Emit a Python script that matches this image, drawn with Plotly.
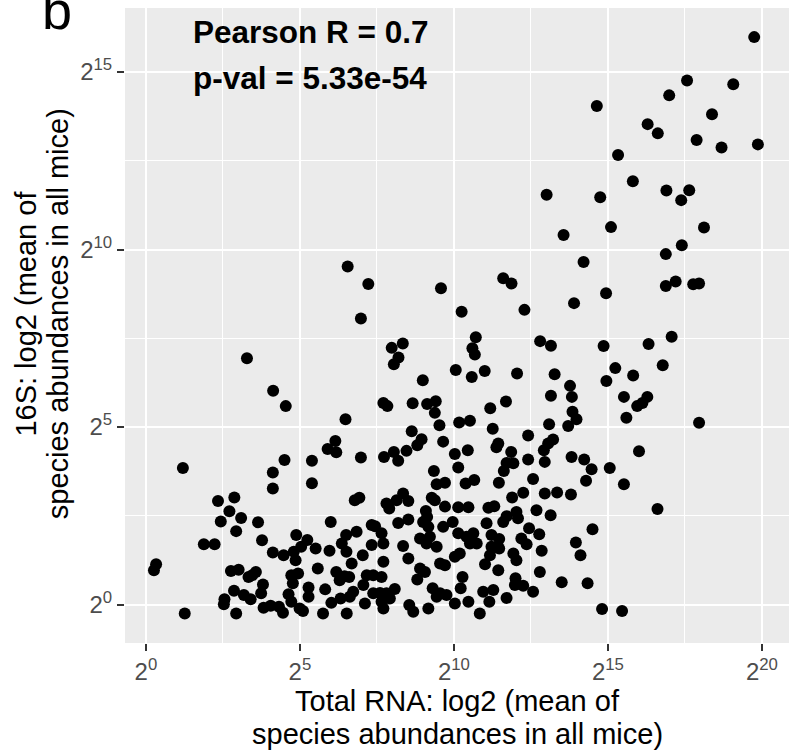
import plotly.graph_objects as go

# log2(mean abundance) values
total_rna_log2 = [
    19.75, 17.57, 19.07, 16.99, 14.64, 18.38, 16.29, 16.62, 17.88, 18.69, 19.87, 15.33, 15.81, 13.01, 14.75,
    16.9, 17.64, 17.38, 15.1, 18.12, 13.56, 17.40, 16.88, 14.21, 14.94, 16.88, 17.2, 17.77, 17.96, 13.9,
    17.07, 14.86, 16.32, 16.78, 15.24, 15.82, 14.95, 13.27, 13.77, 13.83, 15.52, 16.28, 15.95, 16.12, 13.85,
    13.98, 15.6, 17.96, 13.71,
    6.55, 7.22, 6.98, 9.58, 11.6, 11.87, 10.25, 12.29, 10.71, 10.6, 10.68, 7.98, 8.34, 8.2, 8.05,
    12.8, 13.15, 10.06, 11.0, 10.58, 12.05, 8.99, 6.48, 7.71, 7.84, 8.66, 9.13, 9.41, 9.38, 9.53,
    10.17, 10.52, 11.18, 11.69, 13.15, 13.09, 8.63, 11.26,
    3.28, 4.13, 4.54,
    1.2, 0.33, 0.26, 1.26, 4.12, 4.5, 4.12, 5.39, 5.39, 5.9, 6.15, 6.18, 2.34, 2.87, 2.71,
    2.43, 3.09, 2.93, 3.64, 3.77, 1.88, 2.23, 4.12, 4.47, 4.8, 4.88, 5.24, 5.04, 5.51, 4.86,
    6.0, 5.96, 6.36, 6.5, 2.76, 3.01, 3.33, 3.57, 3.45, 3.8, 2.86, 2.55, 2.53, 3.18, 3.4,
    3.74, 2.93, 3.82, 4.05, 4.32, 4.45, 4.72, 4.77, 4.63, 4.94, 4.72, 4.99, 5.1, 5.28, 5.28,
    5.58, 5.82, 5.75, 6.18, 6.29, 6.02, 6.32, 6.52,
    13.82, 14.23, 14.47, 15.06, 16.01, 14.29, 15.52, 13.8, 16.61, 14.5, 13.96, 14.11, 14.34, 14.81, 15.46,
    13.5,
    9.65, 8.95, 8.81, 8.46, 8.05, 8.19, 7.73, 6.98, 10.03, 10.45, 10.14, 9.35, 9.44, 9.71, 11.44,
    11.38, 11.86, 11.71, 11.93, 11.62, 12.41, 12.41, 12.92, 13.06, 13.22, 12.95, 12.57, 11.46, 10.38, 10.66,
    12.95, 13.35, 12.25, 11.89, 12.68, 13.14, 11.12, 11.31, 12.03, 11.71, 12.08, 11.6, 11.06, 12.44, 12.19,
    12.36, 12.77, 12.85, 11.22, 11.47, 11.22, 11.47, 11.17, 11.01, 11.93, 12.03, 11.44, 12.79, 12.0, 11.98,
    12.25, 12.57, 11.71, 11.28, 10.95, 11.15, 10.84, 10.28, 10.22, 10.47, 10.03, 9.17, 8.55, 8.68, 7.71,
    9.31, 9.55, 9.76, 9.44, 8.9, 9.06, 8.81, 9.55, 9.71, 8.35, 8.52, 7.71, 8.08, 7.81, 7.6,
    7.38, 7.92, 7.65, 7.11, 6.73, 6.62, 7.06, 7.17, 7.38, 7.65, 6.6, 6.45, 6.68, 7.04, 7.33,
    7.71, 6.51, 6.84, 7.33, 7.44, 7.65, 8.19, 8.52, 8.9, 9.11, 9.22, 9.44, 9.0, 9.13, 9.09,
    9.28, 9.38, 9.71, 9.17, 9.65, 9.96, 10.14, 10.47, 10.14, 10.41, 10.52, 10.74, 10.63, 10.03, 10.19,
    8.35, 8.52, 8.14, 7.81, 7.9, 6.78, 6.93,
]
s16_log2 = [
    15.98, 14.76, 14.65, 14.34, 14.04, 13.81, 13.53, 13.27, 13.08, 12.87, 12.96, 12.66, 11.92, 11.54, 11.47,
    11.66, 11.67, 11.39, 10.63, 10.62, 10.41, 10.12, 9.87, 9.65, 8.77, 8.97, 9.10, 9.02, 9.04, 8.49,
    7.54, 7.28, 7.34, 6.74, 6.66, 6.45, 6.30, 6.49, 6.16, 5.85, 5.85, 5.85, 5.59, 5.68, 5.43,
    5.22, 5.26, 5.12, 5.03,
    9.52, 9.03, 8.06, 8.91, 9.19, 9.04, 8.25, 8.30, 7.53, 7.22, 7.04, 7.23, 7.35, 6.96, 6.77,
    7.42, 7.29, 6.61, 6.58, 6.41, 6.51, 6.32, 5.22, 5.68, 5.59, 5.67, 5.65, 5.73, 5.40, 5.05,
    5.13, 5.18, 5.53, 5.72, 5.88, 5.08, 4.88, 4.95,
    6.94, 6.02, 5.59,
    3.85, 1.14, 0.97, -0.25, 3.72, 4.07, 3.27, 4.05, 3.42, 4.38, 4.61, 4.29, 2.92, 3.02, 2.63,
    2.34, 2.44, 2.07, 2.32, 1.81, 1.70, 1.70, 1.47, 1.39, 1.49, 1.96, 1.82, 1.63, 1.58, 1.25,
    2.33, 1.52, 1.72, 1.96, 0.95, 0.98, 0.78, 0.92, 0.83, 0.57, 0.39, 0.15, 0.01, 0.27, 0.15,
    0.32, -0.25, -0.09, -0.03, -0.06, -0.23, 0.83, 0.6, 0.29, 0.88, 0.08, -0.11, -0.18, 0.48, 0.22,
    1.02, 0.43, -0.25, 0.92, 0.69, 0.05, 0.17, -0.25,
    4.16, 4.09, 3.81, 3.85, 4.32, 3.49, 3.39, 3.1, 2.69, 2.12, 1.75, 1.39, 0.6, -0.12, -0.18,
    0.63,
    4.59, 4.66, 4.49, 4.33, 4.30, 4.05, 4.16, 4.14, 4.24, 4.35, 3.86, 3.76, 3.39, 3.43, 4.54,
    4.43, 4.30, 3.99, 3.98, 3.76, 4.76, 4.09, 4.35, 4.54, 4.65, 4.02, 3.54, 3.43, 3.41, 3.51,
    3.13, 3.16, 3.15, 3.02, 2.66, 2.52, 2.73, 2.77, 2.61, 2.49, 2.43, 2.33, 2.29, 2.15, 1.86,
    1.70, 1.98, 1.52, 1.96, 1.85, 1.63, 1.58, 1.39, 1.14, 1.44, 1.25, 0.97, 0.92, 0.74, 0.55,
    0.53, 0.36, 0.19, 0.41, 0.36, 0.08, -0.25, 0.78, 0.46, 0.08, 0.03, -0.11, -0.01, -0.2, -0.11,
    0.46, 0.32, 0.27, 0.22, 1.02, 0.92, 0.71, 1.16, 1.11, 1.65, 1.30, 1.21, 0.44, 0.32, 0.33,
    0.32, 0.17, 0.08, 0.03, 0.36, 0.22, 0.55, 0.83, 0.83, 0.78, 0.78, 0.80, 1.16, 1.39, 1.68,
    1.72, 1.49, 2.05, 2.24, 2.21, 2.01, 2.30, 2.40, 1.86, 1.72, 1.91, 1.63, 2.33, 2.47, 2.64,
    3.01, 2.94, 2.76, 2.19, 2.19, 2.33, 2.74, 2.74, 2.01, 1.91, 1.72, 1.72, 2.01, 1.35, 1.44,
    3.13, 2.92, 2.94, 2.85, 2.71, 2.94, 3.01,
]

x_ticks = [0, 5, 10, 15, 20]
y_ticks = [0, 5, 10, 15]
x_ticktext = ["2<sup>%d</sup>" % v for v in x_ticks]
y_ticktext = ["2<sup>%d</sup>" % v for v in y_ticks]

x_title_lines = ["Total RNA: log2 (mean of", "species abundances in all mice)"]
y_title_lines = ["16S: log2 (mean of", "species abundances in all mice)"]
stat_lines = ["Pearson R = 0.7", "p-val = 5.33e-54"]
panel_tag = "b"

FONT = "Liberation Sans, Arial, Helvetica, sans-serif"
TITLE_SIZE = 29

fig = go.Figure(go.Scatter(
    x=total_rna_log2, y=s16_log2, mode="markers",
    marker=dict(color="black", size=12, line=dict(width=0)),
    hoverinfo="skip",
))

axis_common = dict(
    showgrid=True, gridcolor="white", gridwidth=2, zeroline=False,
    ticks="outside", ticklen=7, tickwidth=2, tickcolor="#333333",
    tickfont=dict(family=FONT, size=24, color="#4D4D4D"),
    showline=False,
)

fig.update_xaxes(
    range=[-0.68, 20.88], tickvals=x_ticks, ticktext=x_ticktext,
    minor=dict(tickvals=[2.5, 7.5, 12.5, 17.5], showgrid=True, gridcolor="white", gridwidth=1, ticks=""),
    **axis_common,
)
fig.update_yaxes(
    range=[-1.08, 16.8], tickvals=y_ticks, ticktext=y_ticktext,
    minor=dict(tickvals=[2.5, 7.5, 12.5], showgrid=True, gridcolor="white", gridwidth=1, ticks=""),
    **axis_common,
)

annotations = []
# x-axis title, two centred lines
for txt, yy in zip(x_title_lines, [-0.0911, -0.1431]):
    annotations.append(dict(text=txt, xref="paper", yref="paper", x=0.5, y=yy,
                            xanchor="center", yanchor="middle", showarrow=False,
                            font=dict(family=FONT, size=TITLE_SIZE, color="black")))
# y-axis title, two centred rotated lines
for txt, xx in zip(y_title_lines, [-0.1483, -0.1007]):
    annotations.append(dict(text=txt, xref="paper", yref="paper", x=xx, y=0.518,
                            xanchor="center", yanchor="middle", showarrow=False, textangle=-90,
                            font=dict(family=FONT, size=TITLE_SIZE, color="black")))
# statistics text
for txt, yy in zip(stat_lines, [0.962, 0.890]):
    annotations.append(dict(text=txt, xref="paper", yref="paper", x=0.1, y=yy,
                            xanchor="left", yanchor="middle", showarrow=False,
                            font=dict(family=FONT, size=31.5, color="black", weight="bold")))
# panel tag
annotations.append(dict(text=panel_tag, xref="paper", yref="paper", x=-0.1274, y=1.0466,
                        xanchor="left", yanchor="top", showarrow=False,
                        font=dict(family=FONT, size=54, color="black")))

fig.update_layout(
    width=789, height=750,
    margin=dict(l=125, r=0, t=8, b=107),
    paper_bgcolor="white", plot_bgcolor="#EBEBEB",
    showlegend=False,
    font=dict(family=FONT),
    annotations=annotations,
)

fig.write_html("out.html")
